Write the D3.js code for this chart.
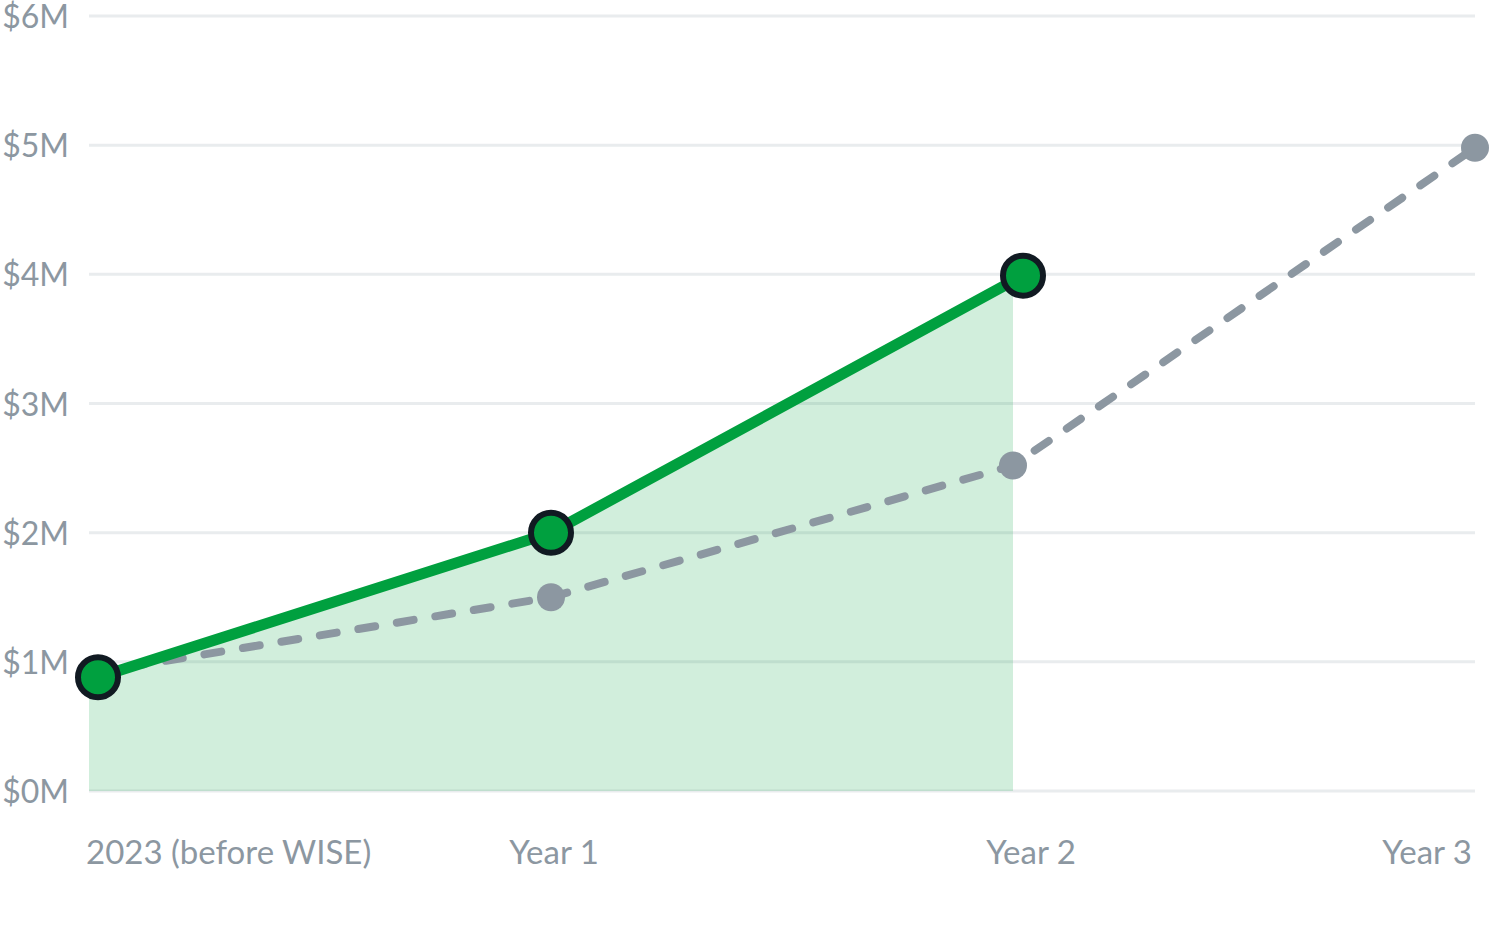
<!DOCTYPE html>
<html>
<head>
<meta charset="utf-8">
<script src="https://cdn.jsdelivr.net/npm/d3@7"></script>
<style>
  html, body { margin: 0; padding: 0; background: #fff; }
  #chart { width: 1490px; height: 927px; }
  text { font-family: Lato, "Open Sans", sans-serif; fill: #8c97a1; }
</style>
</head>
<body>
<div id="chart"></div>
<script>
// Data
const categories = ["2023 (before WISE)", "Year 1", "Year 2", "Year 3"];
const actualValues = [0.88, 2.0, 3.99];          // $M, green line + area
const projectedValues = [0.91, 1.5, 2.52, 4.98]; // $M, grey dashed
const yTicks = [0, 1, 2, 3, 4, 5, 6];

(function() {
  const width = 1490, height = 927;
  const plot = {left: 89, right: 1475, top: 16, bottom: 791};

  const svg = d3.select("#chart").append("svg")
    .attr("width", width)
    .attr("height", height);

  const x = d3.scalePoint()
    .domain(categories)
    .range([plot.left, plot.right]);

  const y = d3.scaleLinear()
    .domain([0, 6])
    .range([plot.bottom, plot.top]);

  // grid lines
  svg.append("g")
    .selectAll("line")
    .data(yTicks)
    .enter()
    .append("line")
    .attr("x1", plot.left)
    .attr("x2", plot.right)
    .attr("y1", d => y(d))
    .attr("y2", d => y(d))
    .attr("stroke", "#e9ecee")
    .attr("stroke-width", 3);

  // y labels
  svg.append("g")
    .selectAll("text")
    .data(yTicks)
    .enter()
    .append("text")
    .attr("x", 69)
    .attr("y", d => y(d) + 12)
    .attr("text-anchor", "end")
    .style("font-size", "32px")
    .text(d => `$${d}M`);

  // x labels - first left aligned, last right aligned
  const labelDx = [-3, 3, 18, -3];
  svg.append("g")
    .selectAll("text")
    .data(categories)
    .enter()
    .append("text")
    .attr("x", (d, i) => x(d) + labelDx[i])
    .attr("y", 864)
    .attr("text-anchor", (d, i) => i === 0 ? "start" : (i === categories.length - 1 ? "end" : "middle"))
    .style("font-size", "33px")
    .text(d => d);

  const actual = actualValues.map((v, i) => ({cat: categories[i], v: v}));
  const projected = projectedValues.map((v, i) => ({cat: categories[i], v: v}));

  // shaded area under actual
  const area = d3.area()
    .x(d => x(d.cat))
    .y0(y(0))
    .y1(d => y(d.v));

  svg.append("path")
    .datum(actual)
    .attr("d", area)
    .attr("fill", "#00a03f")
    .attr("fill-opacity", 0.18);

  // projected dashed line
  const line = d3.line()
    .x(d => x(d.cat))
    .y(d => y(d.v));

  svg.append("path")
    .datum(projected)
    .attr("d", line)
    .attr("fill", "none")
    .attr("stroke", "#8c97a1")
    .attr("stroke-width", 8)
    .attr("stroke-linecap", "round")
    .attr("stroke-dasharray", "17 22");

  svg.append("g")
    .selectAll("circle")
    .data(projected.slice(1))
    .enter()
    .append("circle")
    .attr("cx", d => x(d.cat))
    .attr("cy", d => y(d.v))
    .attr("r", 14)
    .attr("fill", "#8c97a1");

  // actual line, end markers nudged right a bit like the original
  const nudge = (d, i) => x(d.cat) + (i === 0 ? 9 : (i === actual.length - 1 ? 10 : 0));

  svg.append("path")
    .datum(actual)
    .attr("d", d3.line().x(nudge).y(d => y(d.v)))
    .attr("fill", "none")
    .attr("stroke", "#00a03f")
    .attr("stroke-width", 11)
    .attr("stroke-linejoin", "round");

  svg.append("g")
    .selectAll("circle")
    .data(actual)
    .enter()
    .append("circle")
    .attr("cx", nudge)
    .attr("cy", d => y(d.v))
    .attr("r", 20)
    .attr("fill", "#00a03f")
    .attr("stroke", "#111a22")
    .attr("stroke-width", 6);
})();
</script>
</body>
</html>
